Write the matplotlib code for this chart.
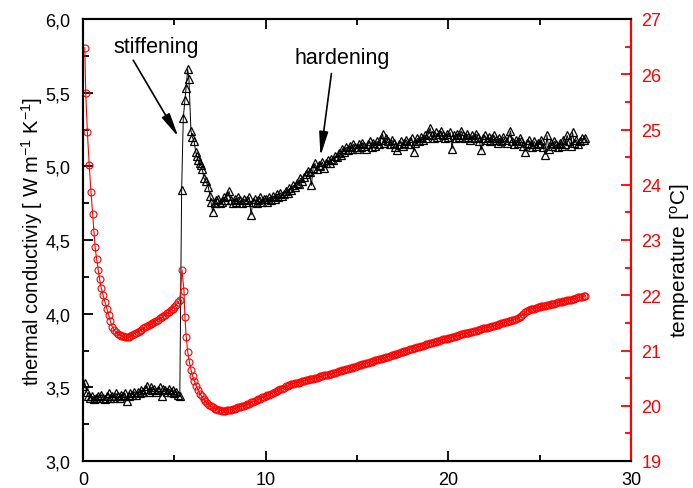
import numpy as np
import matplotlib
matplotlib.use('Agg')
import matplotlib.pyplot as plt
from matplotlib.ticker import MultipleLocator, FuncFormatter

plt.rcParams['font.family'] = ['Liberation Sans', 'DejaVu Sans']
plt.rcParams['mathtext.default'] = 'regular'

# ---- thermal conductivity [W m-1 K-1] ----
# before the jump, sampled every 0.1 from 0.0
k_base_t0 = 0.0
k_base = [3.51, 3.53, 3.47, 3.44, 3.43, 3.44, 3.42, 3.43, 3.44, 3.43,
          3.45, 3.43, 3.42, 3.44, 3.46, 3.43, 3.44, 3.43, 3.46, 3.44,
          3.43, 3.45, 3.44, 3.46, 3.41, 3.44, 3.46, 3.45, 3.47, 3.45,
          3.47, 3.46, 3.48, 3.47, 3.49, 3.51, 3.47, 3.50, 3.48, 3.49,
          3.47, 3.48, 3.50, 3.44, 3.49, 3.48, 3.47, 3.49, 3.47, 3.48,
          3.46, 3.47, 3.45, 3.44]
# stiffening peak
k_peak_t = [5.40, 5.49, 5.58, 5.64, 5.73, 5.80, 5.91, 5.98, 6.08, 6.17,
            6.22, 6.31, 6.38, 6.44, 6.53, 6.62, 6.73, 6.86, 6.95]
k_peak = [4.84, 5.33, 5.45, 5.53, 5.66, 5.59, 5.24, 5.20, 5.17, 5.10,
          5.07, 5.04, 5.02, 5.01, 4.98, 4.92, 4.90, 4.86, 4.80]
# after the peak, sampled every 0.1 from 7.0
k_late_t0 = 7.0
k_late = [4.76, 4.69, 4.75, 4.77, 4.78, 4.75, 4.76, 4.79, 4.77, 4.80,
          4.83, 4.77, 4.75, 4.78, 4.76, 4.79, 4.77, 4.75, 4.78, 4.76,
          4.77, 4.79, 4.67, 4.76, 4.78, 4.75, 4.77, 4.79, 4.76, 4.78,
          4.78, 4.76, 4.79, 4.77, 4.80, 4.78, 4.81, 4.79, 4.82, 4.80,
          4.81, 4.83, 4.82, 4.85, 4.84, 4.87, 4.86, 4.89, 4.88, 4.92,
          4.90, 4.93, 4.95, 4.97, 4.96, 4.87, 4.99, 5.02, 4.98, 5.01,
          5.00, 5.03, 4.99, 5.02, 5.04, 5.02, 5.05, 5.04, 5.07, 5.06,
          5.09, 5.08, 5.12, 5.10, 5.13, 5.11, 5.14, 5.12, 5.15, 5.13,
          5.12, 5.15, 5.13, 5.16, 5.14, 5.12, 5.15, 5.17, 5.13, 5.16,
          5.14, 5.17, 5.15, 5.18, 5.22, 5.16, 5.19, 5.17, 5.15, 5.18,
          5.16, 5.13, 5.11, 5.15, 5.17, 5.14, 5.16, 5.18, 5.15, 5.17,
          5.19, 5.10, 5.16, 5.19, 5.17, 5.20, 5.18, 5.21, 5.19, 5.22,
          5.26, 5.21, 5.19, 5.23, 5.20, 5.22, 5.24, 5.21, 5.19, 5.22,
          5.20, 5.23, 5.12, 5.21, 5.19, 5.22, 5.20, 5.24, 5.21, 5.19,
          5.22, 5.20, 5.18, 5.21, 5.19, 5.22, 5.20, 5.17, 5.11, 5.19,
          5.21, 5.18, 5.20, 5.17, 5.19, 5.21, 5.18, 5.16, 5.19, 5.17,
          5.20, 5.18, 5.16, 5.19, 5.24, 5.17, 5.15, 5.18, 5.16, 5.19,
          5.17, 5.14, 5.10, 5.16, 5.18, 5.15, 5.13, 5.17, 5.14, 5.16,
          5.15, 5.18, 5.13, 5.08, 5.21, 5.12, 5.16, 5.14, 5.17, 5.15,
          5.13, 5.16, 5.14, 5.18, 5.15, 5.21, 5.17, 5.14, 5.23, 5.16,
          5.18, 5.15, 5.17, 5.19, 5.18, 5.19]

# ---- temperature [deg C] ----
T_start_t = [0.10, 0.15, 0.24, 0.34, 0.44, 0.53, 0.60, 0.66, 0.75, 0.84,
             0.91, 1.00, 1.09]
T_start = [26.48, 25.66, 24.95, 24.36, 23.86, 23.47, 23.14, 22.87, 22.65,
           22.45, 22.29, 22.13, 22.01]
# every 0.1 from 1.2
T_mid_t0 = 1.2
T_mid = [21.88, 21.76, 21.64, 21.53, 21.43, 21.37, 21.33, 21.30, 21.28, 21.27,
         21.26, 21.25, 21.24, 21.24, 21.26, 21.28, 21.30, 21.32, 21.34, 21.36,
         21.38, 21.40, 21.42, 21.44, 21.46, 21.48, 21.50, 21.52, 21.54, 21.56,
         21.58, 21.60, 21.63, 21.65, 21.68, 21.70, 21.73, 21.76, 21.79, 21.83,
         21.87, 21.91]
T_peak_t = [5.42, 5.53, 5.58, 5.65, 5.73, 5.82, 5.91, 6.00]
T_peak = [22.46, 22.07, 21.60, 21.25, 20.98, 20.80, 20.65, 20.54]
# every 0.1 from 6.1
T_late_t0 = 6.1
T_late = [20.45, 20.36, 20.28, 20.22, 20.17, 20.12, 20.08, 20.05, 20.02, 19.99,
          19.97, 19.95, 19.94, 19.93, 19.92, 19.91, 19.91, 19.91, 19.92, 19.92,
          19.93, 19.94, 19.95, 19.96, 19.97, 19.98, 19.99, 20.00, 20.02, 20.03,
          20.04, 20.06, 20.07, 20.08, 20.10, 20.12, 20.13, 20.15, 20.16, 20.18,
          20.19, 20.20, 20.22, 20.23, 20.25, 20.26, 20.28, 20.30, 20.31, 20.33,
          20.35, 20.36, 20.38, 20.39, 20.40, 20.41, 20.42, 20.42, 20.43, 20.44,
          20.45, 20.46, 20.47, 20.48, 20.48, 20.49, 20.50, 20.51, 20.52, 20.53,
          20.54, 20.55, 20.56, 20.56, 20.57, 20.58, 20.59, 20.60, 20.61, 20.62,
          20.63, 20.64, 20.65, 20.66, 20.67, 20.68, 20.69, 20.70, 20.71, 20.72,
          20.73, 20.74, 20.75, 20.76, 20.77, 20.78, 20.79, 20.80, 20.81, 20.82,
          20.83, 20.84, 20.85, 20.86, 20.87, 20.88, 20.89, 20.90, 20.91, 20.92,
          20.93, 20.94, 20.96, 20.97, 20.98, 20.99, 21.00, 21.01, 21.02, 21.03,
          21.04, 21.05, 21.06, 21.07, 21.08, 21.09, 21.10, 21.11, 21.12, 21.13,
          21.14, 21.15, 21.16, 21.17, 21.18, 21.19, 21.20, 21.21, 21.21, 21.22,
          21.23, 21.24, 21.25, 21.26, 21.27, 21.28, 21.29, 21.30, 21.31, 21.31,
          21.32, 21.33, 21.34, 21.35, 21.36, 21.37, 21.38, 21.39, 21.40, 21.41,
          21.41, 21.42, 21.43, 21.44, 21.45, 21.46, 21.47, 21.48, 21.49, 21.50,
          21.51, 21.52, 21.53, 21.54, 21.55, 21.56, 21.57, 21.58, 21.60, 21.63,
          21.66, 21.69, 21.72, 21.74, 21.75, 21.76, 21.76, 21.77, 21.78, 21.79,
          21.80, 21.80, 21.81, 21.82, 21.83, 21.84, 21.84, 21.85, 21.86, 21.87,
          21.88, 21.88, 21.89, 21.90, 21.91, 21.92, 21.92, 21.93, 21.94, 21.95,
          21.96, 21.96, 21.97, 21.98, 21.99]

step = 0.1


def regular(t0, vals):
    return t0 + step * np.arange(len(vals))


t_k = np.concatenate([regular(k_base_t0, k_base), k_peak_t, regular(k_late_t0, k_late)])
k = np.concatenate([k_base, k_peak, k_late])
t_T = np.concatenate([T_start_t, regular(T_mid_t0, T_mid), T_peak_t, regular(T_late_t0, T_late)])
T = np.concatenate([T_start, T_mid, T_peak, T_late])

fig = plt.figure(figsize=(6.93, 4.89), dpi=100)
ax = fig.add_axes([83 / 693, 1 - 462 / 489, 548 / 693, 442 / 489])
ax2 = ax.twinx()

ax.plot(t_k, k, '-', color='k', lw=0.7, marker='^', ms=6, mfc='none', mec='k', mew=0.9)
ax2.plot(t_T, T, '-', color='red', lw=0.8, marker='o', ms=5, mfc='none', mec='red', mew=0.8)

ax.set_xlim(0, 30)
ax.set_ylim(3.0, 6.0)
ax2.set_ylim(19, 27)

ax.xaxis.set_major_locator(MultipleLocator(10))
ax.xaxis.set_minor_locator(MultipleLocator(5))
ax.yaxis.set_major_locator(MultipleLocator(0.5))
ax.yaxis.set_minor_locator(MultipleLocator(0.25))
ax.yaxis.set_major_formatter(FuncFormatter(lambda v, p: f'{v:.1f}'.replace('.', ',')))
ax2.yaxis.set_major_locator(MultipleLocator(1))
ax2.yaxis.set_minor_locator(MultipleLocator(0.5))

ax.tick_params(which='both', direction='in', top=True, width=1.3, labelsize=13)
ax.tick_params(axis='y', which='major', pad=9)
ax.tick_params(axis='x', which='major', pad=7)
ax.tick_params(which='major', length=7)
ax.tick_params(which='minor', length=4)
ax2.tick_params(axis='y', which='both', direction='in', colors='red', width=1.3,
                labelsize=13, pad=7.5)
ax2.tick_params(axis='y', which='major', length=7)
ax2.tick_params(axis='y', which='minor', length=4)

for s in ax.spines.values():
    s.set_linewidth(1.5)
for s in ax2.spines.values():
    s.set_linewidth(1.5)
ax2.spines['right'].set_color('red')

ax.set_ylabel(r'thermal conductiviy [ W m$^{-1}$ K$^{-1}$]', fontsize=14.5)
ax.yaxis.set_label_coords(-0.07, 0.5)
ax2.set_ylabel(r'temperature [$^{o}$C]', fontsize=15)
ax2.yaxis.set_label_coords(1.068, 0.455)

ax.text(4.0, 5.81, 'stiffening', fontsize=15.5, ha='center', va='center')
ax.text(14.2, 5.74, 'hardening', fontsize=15.5, ha='center', va='center')
arrow = dict(arrowstyle='-|>,head_length=0.8,head_width=0.15', color='k', lw=1.2,
             mutation_scale=18, shrinkA=0, shrinkB=0)
ax.annotate('', xy=(5.22, 5.20), xytext=(2.75, 5.72), arrowprops=arrow)
ax.annotate('', xy=(13.0, 5.07), xytext=(13.6, 5.63), arrowprops=arrow)

fig.savefig('out.png', dpi=100)
